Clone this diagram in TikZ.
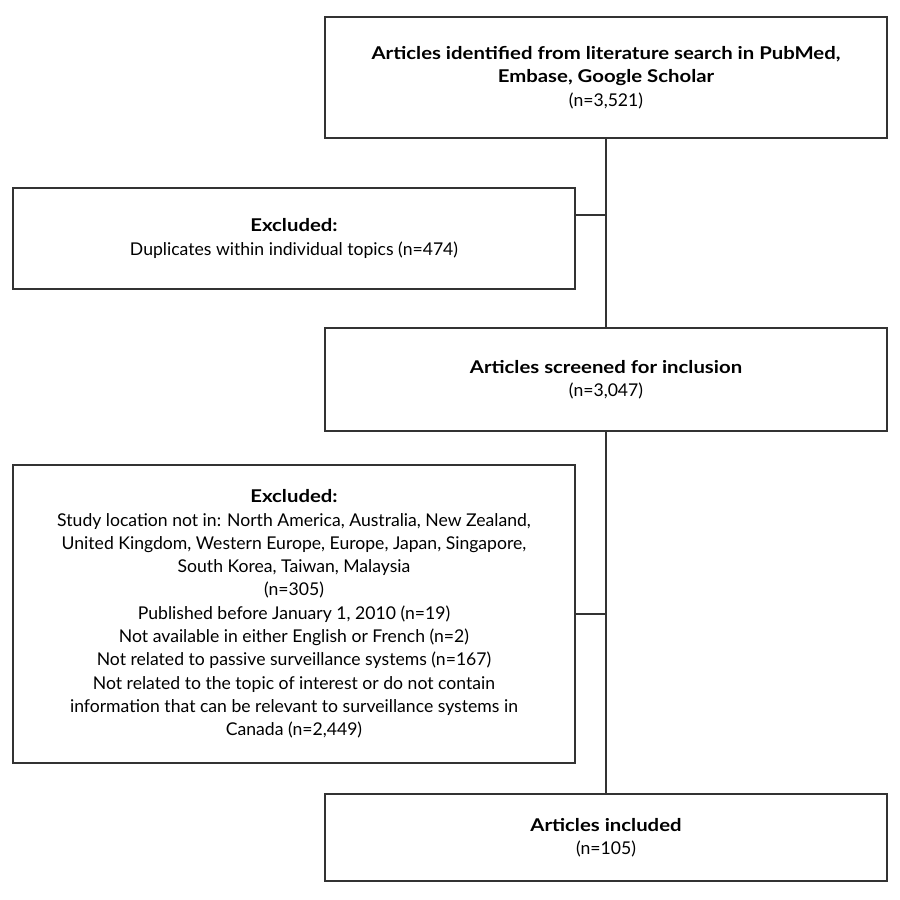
\documentclass[tikz,border=0pt]{standalone}
\usepackage{fontspec}
\setmainfont{Lato}[BoldFeatures={FakeStretch=1.155}]
\begin{document}
\begin{tikzpicture}[x=1pt,y=1pt,
  box/.style={draw=black!80, line width=1.2pt, align=center, inner sep=0pt,
    font=\fontsize{17.6}{23.3}\selectfont},
  conn/.style={draw=black!80, line width=1.2pt}]
\useasboundingbox (0,0) rectangle (900,900);
\node[box, minimum width=562pt, minimum height=121pt] (top) at (606,822.5)
  {\textbf{Articles identified from literature search in PubMed,}\\\textbf{Embase, Google Scholar}\\(n=3,521)};
\node[box, minimum width=562pt, minimum height=101pt] (ex1) at (294,661.5)
  {\textbf{Excluded:}\\Duplicates within individual topics (n=474)};
\node[box, minimum width=562pt, minimum height=103pt] (scr) at (606,520.5)
  {\textbf{Articles screened for inclusion}\\(n=3,047)};
\node[box, minimum width=562pt, minimum height=298pt] (ex2) at (294,286)
  {\textbf{Excluded:}\\Study location not in: North America, Australia, New Zealand,\\United Kingdom, Western Europe, Europe, Japan, Singapore,\\South Korea, Taiwan, Malaysia\\(n=305)\\Published before January 1, 2010 (n=19)\\Not available in either English or French (n=2)\\Not related to passive surveillance systems (n=167)\\Not related to the topic of interest or do not contain\\information that can be relevant to surveillance systems in\\Canada (n=2,449)};
\node[box, minimum width=562pt, minimum height=87pt] (inc) at (606,62.5)
  {\textbf{Articles included}\\(n=105)};
\coordinate (j1) at ([yshift=23.5pt]ex1.east);
\draw[conn] (top.south) -- (scr.north);
\draw[conn] (scr.south) -- (inc.north);
\draw[conn] (j1) -- (j1 -| top.south);
\draw[conn] (ex2.east) -- (ex2.east -| scr.south);
\end{tikzpicture}
\end{document}
